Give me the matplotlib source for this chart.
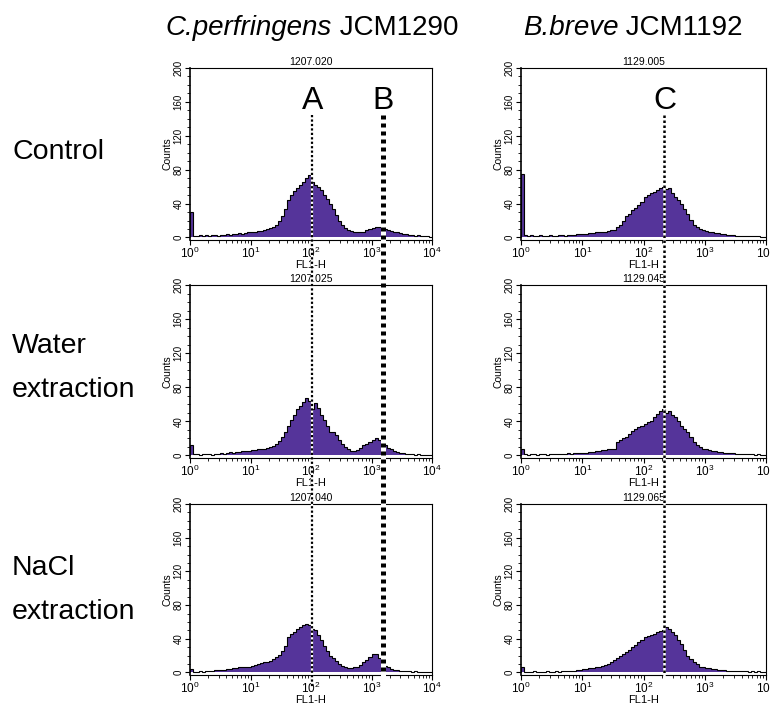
import numpy as np
import matplotlib
matplotlib.use('Agg')
import matplotlib.pyplot as plt
from matplotlib.lines import Line2D
from matplotlib.ticker import MultipleLocator

plt.rcParams['font.family'] = ['Liberation Sans', 'DejaVu Sans']
plt.rcParams['mathtext.fontset'] = 'custom'
plt.rcParams['mathtext.rm'] = 'Liberation Sans'
plt.rcParams['mathtext.it'] = 'Liberation Sans:italic'

# histogram counts, 80 log bins from 10^0 to 10^4 (20 per decade)
fl1_edges = np.logspace(0, 4, 81)

ctrl_cp = [30, 2, 2, 3, 2, 3, 2, 3, 3, 2, 3, 3, 4, 3, 4, 4, 5, 4, 5, 6,
           7, 6, 8, 8, 9, 10, 11, 12, 15, 19, 25, 33, 44, 50, 55, 58, 62, 66, 70, 74,
           66, 62, 60, 56, 50, 45, 40, 34, 27, 20, 15, 11, 9, 8, 7, 6, 6, 7, 9, 10,
           11, 12, 12, 11, 10, 9, 8, 7, 6, 5, 4, 4, 3, 3, 2, 3, 2, 2, 2, 1]
water_cp = [12, 2, 2, 1, 2, 2, 2, 1, 2, 2, 3, 2, 3, 4, 3, 4, 4, 5, 5, 5,
            6, 6, 7, 8, 8, 9, 10, 11, 13, 17, 22, 28, 35, 42, 48, 54, 58, 63, 67, 64,
            55, 62, 56, 48, 42, 35, 28, 27, 24, 18, 14, 10, 7, 5, 5, 6, 9, 12, 14, 16,
            18, 20, 18, 15, 12, 9, 7, 5, 4, 3, 3, 2, 2, 2, 1, 2, 1, 1, 1, 1]
nacl_cp = [4, 1, 1, 2, 1, 2, 2, 2, 3, 3, 3, 3, 4, 4, 5, 5, 6, 6, 7, 7,
           8, 9, 10, 11, 12, 13, 14, 16, 18, 21, 25, 32, 42, 46, 48, 52, 54, 56, 58, 56,
           52, 50, 45, 38, 32, 25, 20, 17, 14, 10, 8, 6, 5, 5, 6, 7, 9, 12, 15, 18,
           22, 22, 17, 12, 8, 6, 4, 3, 3, 2, 2, 2, 2, 1, 2, 1, 1, 1, 1, 1]

ctrl_bb = [75, 3, 2, 3, 2, 2, 3, 2, 2, 3, 2, 2, 3, 3, 2, 3, 3, 3, 4, 4,
           4, 4, 5, 5, 6, 6, 7, 7, 8, 9, 9, 12, 15, 20, 25, 28, 32, 35, 38, 42,
           48, 50, 52, 54, 56, 58, 60, 57, 58, 52, 48, 44, 40, 34, 28, 21, 15, 12, 10, 9,
           8, 7, 6, 5, 5, 4, 4, 3, 3, 3, 2, 2, 2, 2, 2, 2, 2, 2, 1, 1]
water_bb = [8, 2, 1, 2, 2, 1, 2, 2, 1, 2, 2, 2, 2, 2, 2, 3, 2, 3, 3, 3,
            3, 3, 4, 4, 5, 5, 6, 6, 7, 8, 8, 16, 18, 20, 22, 25, 29, 31, 33, 35,
            37, 39, 41, 45, 49, 52, 54, 50, 52, 48, 45, 40, 35, 31, 27, 22, 16, 12, 10, 8,
            7, 6, 5, 5, 4, 4, 3, 3, 3, 3, 2, 2, 2, 2, 2, 2, 1, 2, 1, 1]
nacl_bb = [6, 1, 1, 1, 2, 1, 1, 1, 2, 1, 1, 2, 1, 2, 2, 2, 2, 2, 3, 3,
           4, 4, 5, 5, 6, 7, 8, 9, 10, 12, 15, 17, 20, 22, 24, 27, 30, 33, 36, 39,
           42, 43, 44, 46, 48, 49, 50, 54, 52, 48, 44, 39, 34, 27, 20, 16, 13, 10, 7, 6,
           5, 5, 4, 4, 3, 3, 3, 2, 2, 2, 2, 2, 2, 2, 1, 2, 1, 2, 1, 1]

cp_titles = ["1207.020", "1207.025", "1207.040"]
bb_titles = ["1129.005", "1129.045", "1129.065"]
col_species = ["C.perfringens", "B.breve"]
col_strains = [" JCM1290", " JCM1192"]
row_labels = ["Control", "Water\nextraction", "NaCl\nextraction"]

# marker gates
marker_names = ["A", "B", "C"]
marker_vals = [105, 1570, 220]
marker_cols = [0, 0, 1]

purple = '#55349a'

W, H = 770, 707
fig = plt.figure(figsize=(W / 100, H / 100), dpi=100)

col_px = [(190, 242), (521, 245)]
row_px = [(68, 240), (285, 458), (504, 675)]

data = [[ctrl_cp, water_cp, nacl_cp], [ctrl_bb, water_bb, nacl_bb]]
titles = [cp_titles, bb_titles]
axes = [[None] * 3 for _ in range(2)]

for c in range(2):
    x0, w = col_px[c]
    for r in range(3):
        top, bot = row_px[r]
        ax = fig.add_axes([x0 / W, 1 - bot / H, w / W, (bot - top) / H])
        vals = data[c][r]
        ax.stairs(vals, fl1_edges, fill=True, color=purple, lw=0)
        ax.stairs(vals, fl1_edges, color='black', lw=0.8)
        ax.set_xscale('log')
        ax.set_xlim(1, 1e4)
        ax.set_ylim(-3, 200)
        ax.set_yticks([0, 40, 80, 120, 160, 200])
        ax.yaxis.set_minor_locator(MultipleLocator(10))
        ax.tick_params(direction='out', length=3.5, width=0.8, pad=1)
        ax.tick_params(which='minor', direction='out', length=2, width=0.6)
        ax.tick_params(axis='x', labelsize=8.5)
        ax.tick_params(axis='y', labelsize=7, labelrotation=90)
        for tl in ax.get_yticklabels():
            tl.set_va('center')
        ax.set_ylabel("Counts", fontsize=7.5, labelpad=1)
        ax.set_xlabel("FL1-H", fontsize=8, labelpad=-1)
        ax.set_title(titles[c][r], fontsize=7.5, pad=2)
        for s in ax.spines.values():
            s.set_linewidth(0.8)
        ax.spines['left'].set_linewidth(1.2)
        axes[c][r] = ax

# column headers: italic species + regular strain, centred as one line
renderer = fig.canvas.get_renderer()
head_x = [312, 633]
for sp, st, xc in zip(col_species, col_strains, head_x):
    t1 = fig.text(0, 1 - 28 / H, sp, fontsize=20, style='italic', ha='left', va='center')
    t2 = fig.text(0, 1 - 28 / H, st, fontsize=20, ha='left', va='center')
    w1 = t1.get_window_extent(renderer).width
    w2 = t2.get_window_extent(renderer).width
    left = xc - (w1 + w2) / 2
    t1.set_x(left / W)
    t2.set_x((left + w1) / W)

row_y = [152, 368, 590]
for lab, y in zip(row_labels, row_y):
    fig.text(12 / W, 1 - y / H, lab, fontsize=20.5, ha='left', va='center', linespacing=1.9)

# gate lines across the panels
inv = fig.transFigure.inverted()
line_w = [1.6, 3.6, 1.8]
line_end = [688, 675, 675]
for name, xv, c, lw, yend in zip(marker_names, marker_vals, marker_cols, line_w, line_end):
    ax = axes[c][0]
    xf = inv.transform(ax.transData.transform((xv, 1)))[0]
    ys = [1 - 115 / H, 1 - yend / H]
    fig.add_artist(Line2D([xf, xf], ys, transform=fig.transFigure, color='white', lw=lw))
    fig.add_artist(Line2D([xf, xf], ys, transform=fig.transFigure, color='black', lw=lw,
                          dashes=(1.0, 1.0) if lw < 3 else (0.8, 0.8)))
    fig.text(xf, 1 - 101 / H, name, fontsize=23, ha='center', va='center')

fig.savefig('out.png', dpi=100)
